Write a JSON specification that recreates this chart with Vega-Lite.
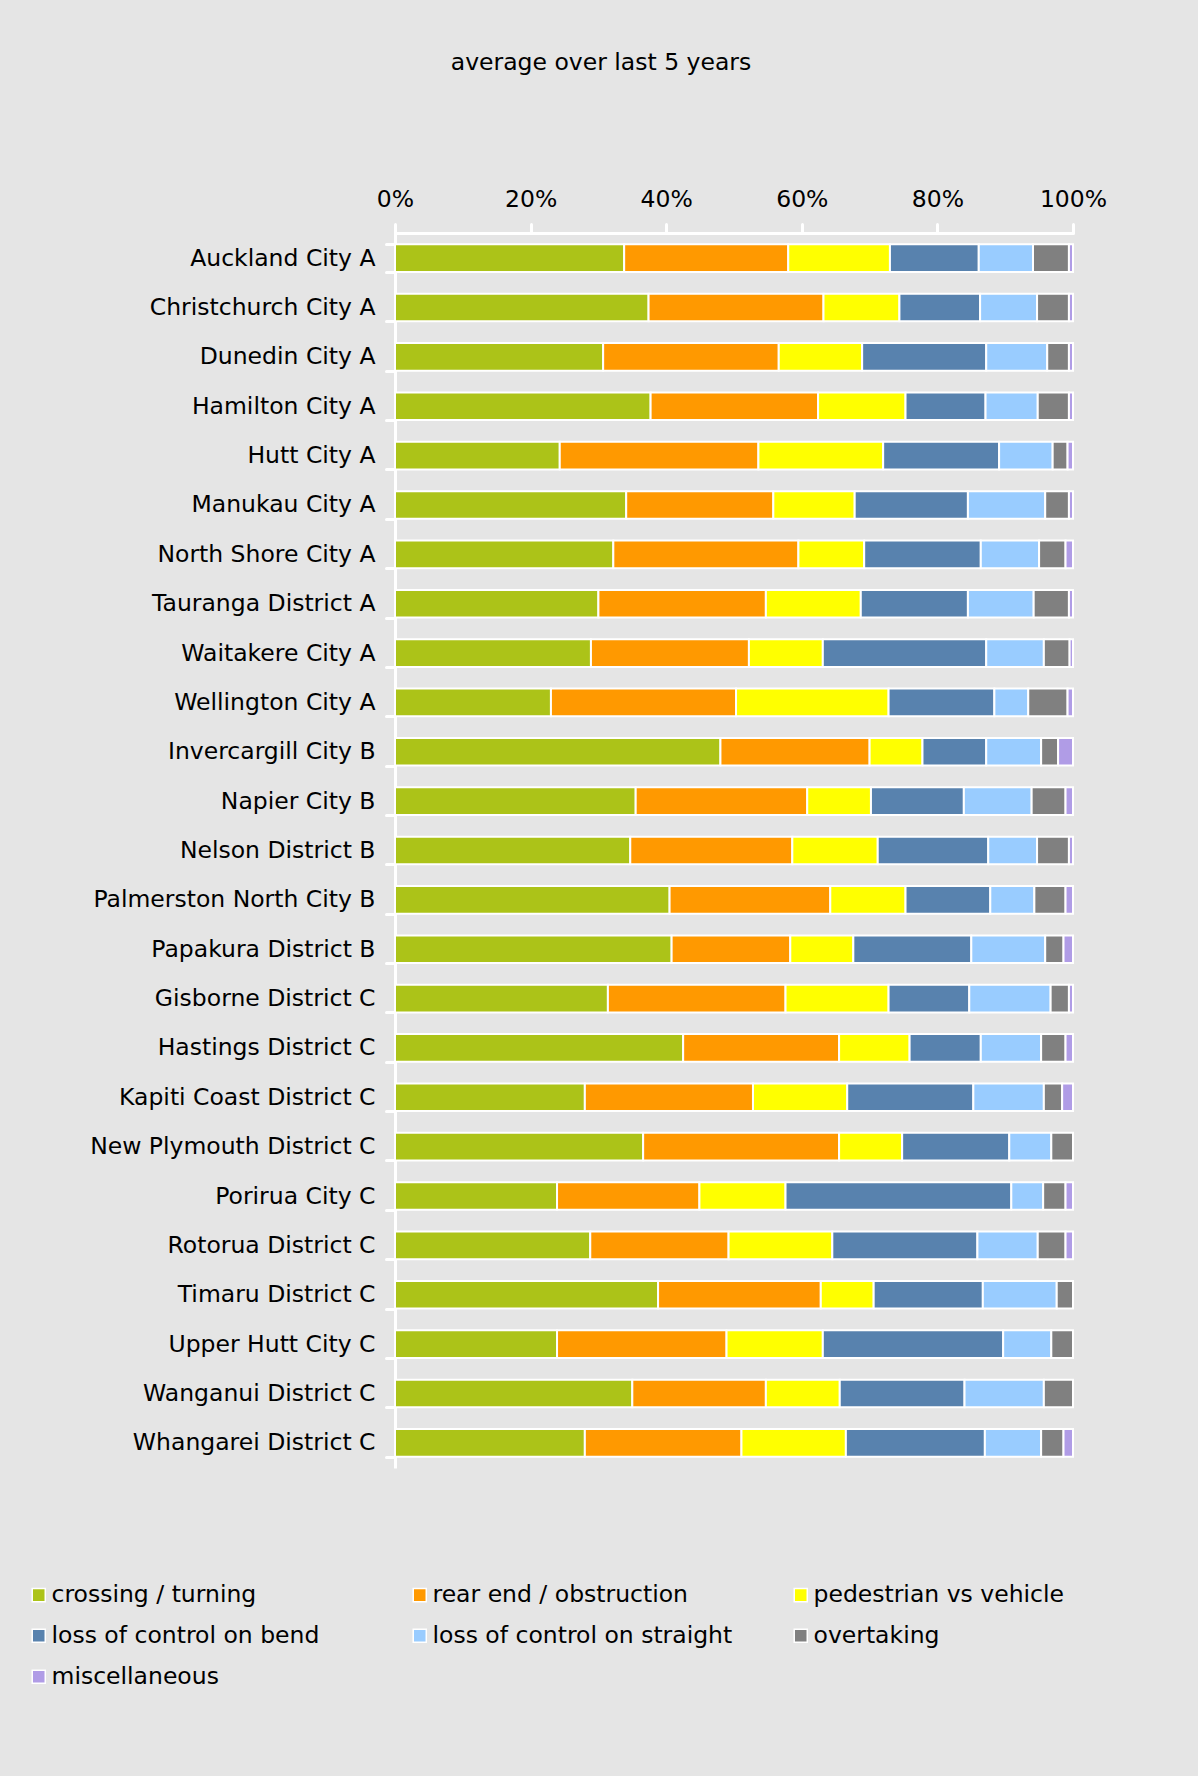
{
  "$schema": "https://vega.github.io/schema/vega-lite/v6.json",
  "autosize": {"type": "none"},
  "width": 678,
  "height": 1235,
  "padding": {"left": 395, "top": 233, "right": 125, "bottom": 308},
  "background": "#E5E5E5",
  "title": {
    "text": "average over last 5 years",
    "font": "DejaVu Sans",
    "fontSize": 23.5,
    "fontWeight": "normal",
    "color": "#000000",
    "anchor": "middle",
    "dx": -133,
    "offset": 113
  },
  "data": {
    "values": [
      {"city": "Auckland City A", "crossing / turning": 33.8, "rear end / obstruction": 24.2, "pedestrian vs vehicle": 15.0, "loss of control on bend": 13.1, "loss of control on straight": 8.0, "overtaking": 5.3, "miscellaneous": 0.6},
      {"city": "Christchurch City A", "crossing / turning": 37.4, "rear end / obstruction": 25.8, "pedestrian vs vehicle": 11.2, "loss of control on bend": 11.9, "loss of control on straight": 8.4, "overtaking": 4.7, "miscellaneous": 0.6},
      {"city": "Dunedin City A", "crossing / turning": 30.7, "rear end / obstruction": 25.9, "pedestrian vs vehicle": 12.3, "loss of control on bend": 18.3, "loss of control on straight": 9.0, "overtaking": 3.2, "miscellaneous": 0.6},
      {"city": "Hamilton City A", "crossing / turning": 37.7, "rear end / obstruction": 24.7, "pedestrian vs vehicle": 12.9, "loss of control on bend": 11.8, "loss of control on straight": 7.7, "overtaking": 4.6, "miscellaneous": 0.6},
      {"city": "Hutt City A", "crossing / turning": 24.3, "rear end / obstruction": 29.3, "pedestrian vs vehicle": 18.4, "loss of control on bend": 17.1, "loss of control on straight": 7.9, "overtaking": 2.2, "miscellaneous": 0.8},
      {"city": "Manukau City A", "crossing / turning": 34.1, "rear end / obstruction": 21.7, "pedestrian vs vehicle": 12.0, "loss of control on bend": 16.7, "loss of control on straight": 11.4, "overtaking": 3.5, "miscellaneous": 0.6},
      {"city": "North Shore City A", "crossing / turning": 32.2, "rear end / obstruction": 27.3, "pedestrian vs vehicle": 9.7, "loss of control on bend": 17.2, "loss of control on straight": 8.6, "overtaking": 3.9, "miscellaneous": 1.1},
      {"city": "Tauranga District A", "crossing / turning": 30.0, "rear end / obstruction": 24.7, "pedestrian vs vehicle": 14.0, "loss of control on bend": 15.8, "loss of control on straight": 9.7, "overtaking": 5.2, "miscellaneous": 0.6},
      {"city": "Waitakere City A", "crossing / turning": 28.9, "rear end / obstruction": 23.3, "pedestrian vs vehicle": 10.9, "loss of control on bend": 24.1, "loss of control on straight": 8.5, "overtaking": 3.8, "miscellaneous": 0.5},
      {"city": "Wellington City A", "crossing / turning": 23.0, "rear end / obstruction": 27.3, "pedestrian vs vehicle": 22.5, "loss of control on bend": 15.6, "loss of control on straight": 5.0, "overtaking": 5.8, "miscellaneous": 0.8},
      {"city": "Invercargill City B", "crossing / turning": 48.0, "rear end / obstruction": 22.0, "pedestrian vs vehicle": 7.8, "loss of control on bend": 9.4, "loss of control on straight": 8.1, "overtaking": 2.5, "miscellaneous": 2.2},
      {"city": "Napier City B", "crossing / turning": 35.5, "rear end / obstruction": 25.3, "pedestrian vs vehicle": 9.4, "loss of control on bend": 13.7, "loss of control on straight": 10.0, "overtaking": 5.0, "miscellaneous": 1.1},
      {"city": "Nelson District B", "crossing / turning": 34.7, "rear end / obstruction": 23.9, "pedestrian vs vehicle": 12.6, "loss of control on bend": 16.3, "loss of control on straight": 7.2, "overtaking": 4.7, "miscellaneous": 0.6},
      {"city": "Palmerston North City B", "crossing / turning": 40.5, "rear end / obstruction": 23.7, "pedestrian vs vehicle": 11.1, "loss of control on bend": 12.5, "loss of control on straight": 6.5, "overtaking": 4.6, "miscellaneous": 1.1},
      {"city": "Papakura District B", "crossing / turning": 40.8, "rear end / obstruction": 17.5, "pedestrian vs vehicle": 9.3, "loss of control on bend": 17.4, "loss of control on straight": 10.9, "overtaking": 2.7, "miscellaneous": 1.4},
      {"city": "Gisborne District C", "crossing / turning": 31.4, "rear end / obstruction": 26.2, "pedestrian vs vehicle": 15.2, "loss of control on bend": 11.9, "loss of control on straight": 12.0, "overtaking": 2.7, "miscellaneous": 0.6},
      {"city": "Hastings District C", "crossing / turning": 42.5, "rear end / obstruction": 23.0, "pedestrian vs vehicle": 10.4, "loss of control on bend": 10.5, "loss of control on straight": 8.9, "overtaking": 3.6, "miscellaneous": 1.1},
      {"city": "Kapiti Coast District C", "crossing / turning": 28.0, "rear end / obstruction": 24.8, "pedestrian vs vehicle": 13.9, "loss of control on bend": 18.6, "loss of control on straight": 10.4, "overtaking": 2.7, "miscellaneous": 1.6},
      {"city": "New Plymouth District C", "crossing / turning": 36.6, "rear end / obstruction": 28.9, "pedestrian vs vehicle": 9.3, "loss of control on bend": 15.8, "loss of control on straight": 6.2, "overtaking": 3.2, "miscellaneous": 0},
      {"city": "Porirua City C", "crossing / turning": 23.9, "rear end / obstruction": 21.0, "pedestrian vs vehicle": 12.7, "loss of control on bend": 33.3, "loss of control on straight": 4.7, "overtaking": 3.3, "miscellaneous": 1.1},
      {"city": "Rotorua District C", "crossing / turning": 28.8, "rear end / obstruction": 20.4, "pedestrian vs vehicle": 15.3, "loss of control on bend": 21.4, "loss of control on straight": 8.9, "overtaking": 4.1, "miscellaneous": 1.1},
      {"city": "Timaru District C", "crossing / turning": 38.8, "rear end / obstruction": 24.0, "pedestrian vs vehicle": 7.8, "loss of control on bend": 16.1, "loss of control on straight": 10.9, "overtaking": 2.4, "miscellaneous": 0},
      {"city": "Upper Hutt City C", "crossing / turning": 23.9, "rear end / obstruction": 25.0, "pedestrian vs vehicle": 14.2, "loss of control on bend": 26.6, "loss of control on straight": 7.1, "overtaking": 3.2, "miscellaneous": 0},
      {"city": "Wanganui District C", "crossing / turning": 35.0, "rear end / obstruction": 19.7, "pedestrian vs vehicle": 10.9, "loss of control on bend": 18.4, "loss of control on straight": 11.7, "overtaking": 4.3, "miscellaneous": 0},
      {"city": "Whangarei District C", "crossing / turning": 28.0, "rear end / obstruction": 23.1, "pedestrian vs vehicle": 15.4, "loss of control on bend": 20.5, "loss of control on straight": 8.3, "overtaking": 3.3, "miscellaneous": 1.4}
    ]
  },
  "transform": [
    {"fold": ["crossing / turning", "rear end / obstruction", "pedestrian vs vehicle", "loss of control on bend", "loss of control on straight", "overtaking", "miscellaneous"], "as": ["type", "value"]},
    {"window": [{"op": "row_number", "as": "seq"}]}
  ],
  "mark": {"type": "bar", "stroke": "#FFFFFF", "strokeWidth": 2},
  "encoding": {
    "y": {
      "field": "city",
      "type": "nominal",
      "sort": null,
      "scale": {"paddingInner": 0.44, "paddingOuter": 0.23},
      "axis": {
        "title": null,
        "labelFont": "DejaVu Sans",
        "labelFontSize": 23.5,
        "labelColor": "#000000",
        "labelPadding": 11,
        "labelLimit": 400,
        "domainColor": "#FFFFFF",
        "domainWidth": 3,
        "tickColor": "#FFFFFF",
        "tickWidth": 3,
        "tickSize": 9,
        "tickCap": "round",
        "tickBand": "extent"
      }
    },
    "x": {
      "field": "value",
      "type": "quantitative",
      "stack": "normalize",
      "scale": {"domain": [0, 1], "nice": false},
      "axis": {
        "orient": "top",
        "title": null,
        "grid": false,
        "values": [0, 0.2, 0.4, 0.6, 0.8, 1],
        "format": ".0%",
        "labelFont": "DejaVu Sans",
        "labelFontSize": 23.5,
        "labelColor": "#000000",
        "labelPadding": 13,
        "labelFlush": false,
        "domainColor": "#FFFFFF",
        "domainWidth": 3,
        "tickColor": "#FFFFFF",
        "tickWidth": 3,
        "tickSize": 9,
        "tickCap": "round"
      }
    },
    "order": {"field": "seq", "type": "quantitative", "sort": "ascending"},
    "color": {
      "field": "type",
      "type": "nominal",
      "sort": ["crossing / turning", "rear end / obstruction", "pedestrian vs vehicle", "loss of control on bend", "loss of control on straight", "overtaking", "miscellaneous"],
      "scale": {
        "domain": ["crossing / turning", "rear end / obstruction", "pedestrian vs vehicle", "loss of control on bend", "loss of control on straight", "overtaking", "miscellaneous"],
        "range": ["#ACC318", "#FF9900", "#FFFF00", "#5882AE", "#99CCFF", "#808080", "#B09CE6"]
      },
      "legend": {
        "title": null,
        "orient": "none",
        "legendX": -368,
        "legendY": 1350,
        "direction": "horizontal",
        "columns": 3,
        "gridAlign": "all",
        "columnPadding": 56,
        "rowPadding": 16,
        "padding": 0,
        "symbolType": "square",
        "symbolSize": 170,
        "symbolStrokeColor": "#FFFFFF",
        "symbolStrokeWidth": 1.5,
        "symbolOpacity": 1,
        "labelFont": "DejaVu Sans",
        "labelFontSize": 23.5,
        "labelColor": "#000000",
        "labelOffset": 1,
        "labelLimit": 400
      }
    }
  },
  "config": {
    "view": {"stroke": null}
  }
}
